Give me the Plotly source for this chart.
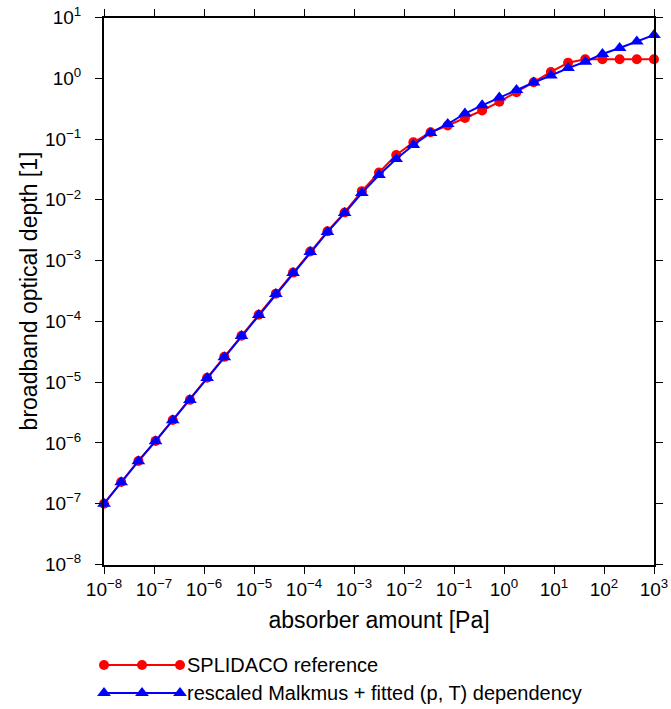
import plotly.graph_objects as go

# ---------------- data ----------------
absorber_amount = [1.000e-8, 2.207e-8, 4.870e-8, 1.075e-7, 2.371e-7, 5.233e-7, 1.155e-6, 2.548e-6,
                   5.623e-6, 1.241e-5, 2.738e-5, 6.043e-5, 1.334e-4, 2.943e-4, 6.494e-4, 1.433e-3,
                   3.162e-3, 6.978e-3, 1.540e-2, 3.398e-2, 7.499e-2, 0.1655, 0.3652, 0.8058,
                   1.778, 3.924, 8.660, 19.11, 42.17, 93.06, 205.4, 453.2, 1000.0]

splidaco_ref = [1.00e-7, 2.27e-7, 5.05e-7, 1.08e-6, 2.39e-6, 5.12e-6, 1.18e-5, 2.61e-5,
                5.80e-5, 1.29e-4, 2.86e-4, 6.35e-4, 1.41e-3, 3.03e-3, 6.20e-3, 1.39e-2,
                2.81e-2, 5.46e-2, 8.83e-2, 0.129, 0.167, 0.223, 0.295, 0.410,
                0.590, 0.861, 1.27, 1.80, 2.05, 2.05, 2.05, 2.05, 2.05]

malkmus_fit = [1.00e-7, 2.26e-7, 5.02e-7, 1.07e-6, 2.37e-6, 5.07e-6, 1.17e-5, 2.58e-5,
               5.73e-5, 1.27e-4, 2.81e-4, 6.24e-4, 1.38e-3, 2.95e-3, 6.05e-3, 1.29e-2,
               2.56e-2, 4.69e-2, 7.97e-2, 0.126, 0.177, 0.263, 0.359, 0.482,
               0.641, 0.851, 1.11, 1.47, 1.87, 2.51, 3.15, 4.03, 5.15]

x_exponents = [-8, -7, -6, -5, -4, -3, -2, -1, 0, 1, 2, 3]
y_exponents = [-8, -7, -6, -5, -4, -3, -2, -1, 0, 1]
x_tickvals = [10.0 ** e for e in x_exponents]
y_tickvals = [10.0 ** e for e in y_exponents]
x_ticktext = ["10<sup>%s</sup>" % str(e).replace("-", "\u2212") for e in x_exponents]
y_ticktext = ["10<sup>%s</sup>" % str(e).replace("-", "\u2212") for e in y_exponents]

series_names = ["SPLIDACO reference", "rescaled Malkmus + fitted (p, T) dependency"]
x_title = "absorber amount [Pa]"
y_title = "broadband optical depth [1]"

# ---------------- layout constants ----------------
W, H = 671, 709                          # figure size (page margin removed below)
PL, PR, PT, PB = 104, 654, 17.5, 564.5   # plot area in pixels
RED, BLUE = "#ff0000", "#0000ff"
FONT = "Liberation Sans, Arial, Helvetica, sans-serif"

fig = go.Figure()

fig.add_trace(go.Scatter(
    x=absorber_amount, y=splidaco_ref, mode="lines+markers", name=series_names[0],
    line=dict(color=RED, width=2), marker=dict(symbol="circle", size=10, color=RED),
    cliponaxis=False, showlegend=False))
fig.add_trace(go.Scatter(
    x=absorber_amount, y=malkmus_fit, mode="lines+markers", name=series_names[1],
    line=dict(color=BLUE, width=2), marker=dict(symbol="triangle-up", size=12, color=BLUE),
    cliponaxis=False, showlegend=False))

# legend key drawn on an overlay pixel axis
leg_rows = [(665, RED, "circle", 10), (693, BLUE, "triangle-up", 12)]
leg_x = [104, 142, 180]
for (ly, col, sym, sz), name in zip(leg_rows, series_names):
    fig.add_trace(go.Scatter(
        x=leg_x, y=[ly] * 3, xaxis="x2", yaxis="y2", mode="lines+markers",
        line=dict(color=col, width=2), marker=dict(symbol=sym, size=sz, color=col),
        cliponaxis=False, showlegend=False, hoverinfo="skip"))
    fig.add_annotation(x=185, y=ly, xref="x2", yref="y2", text=name, showarrow=False,
                       xanchor="left", yanchor="middle",
                       font=dict(family=FONT, size=20, color="black"))

axis_common = dict(type="log", showgrid=False, zeroline=False,
                   showline=True, linecolor="black", linewidth=2, mirror="allticks",
                   ticks="outside", ticklen=7, tickwidth=1, tickcolor="black", automargin=False,
                   ticklabeloverflow="allow",
                   tickfont=dict(family=FONT, size=19, color="black"))

fig.update_layout(
    width=W, height=H,
    margin=dict(l=0, r=0, t=0, b=0, pad=0),
    paper_bgcolor="white", plot_bgcolor="rgba(0,0,0,0)",
    font=dict(family=FONT, color="black"),
    showlegend=False,
    xaxis=dict(axis_common, range=[-8, 3], domain=[PL / W, PR / W], anchor="y",
               tickmode="array", tickvals=x_tickvals, ticktext=x_ticktext,
               ticklabelstandoff=0,
               title=dict(text=x_title, font=dict(family=FONT, size=23), standoff=13)),
    yaxis=dict(axis_common, range=[-8, 1], domain=[1 - PB / H, 1 - PT / H], anchor="x",
               tickmode="array", tickvals=y_tickvals, ticktext=y_ticktext,
               ticklabelstandoff=10,
               title=dict(text=y_title, font=dict(family=FONT, size=23), standoff=1)),
    xaxis2=dict(range=[0, W], domain=[0, 1], visible=False, anchor="y2", fixedrange=True,
                automargin=False),
    yaxis2=dict(range=[H, 0], domain=[0, 1], visible=False, anchor="x2", fixedrange=True,
                automargin=False),
)

fig.write_html("out.html",
               config={"displayModeBar": False},
               post_script="document.body.style.margin='0';document.body.style.overflow='hidden';")
